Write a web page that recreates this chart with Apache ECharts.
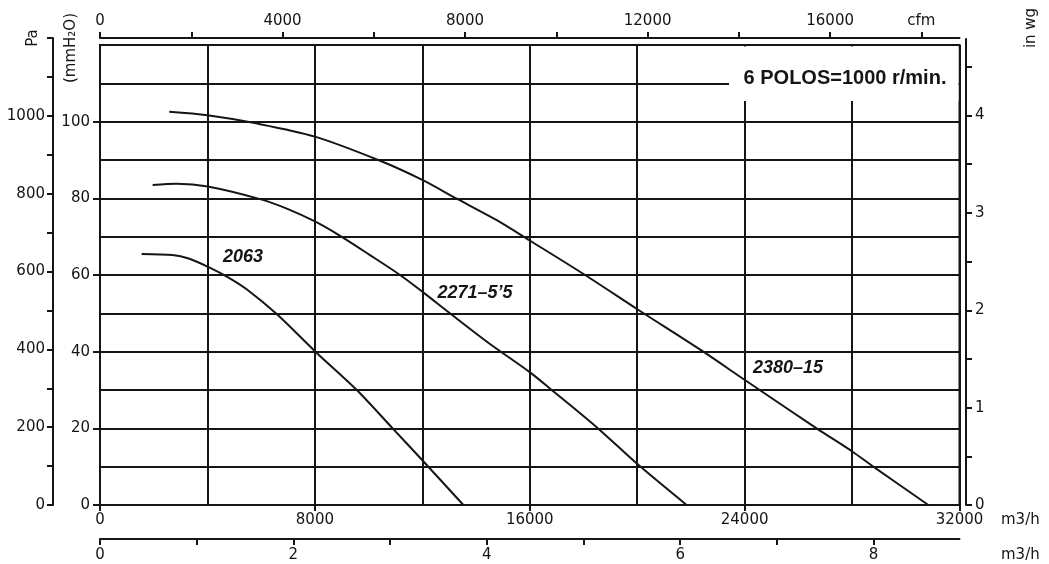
<!DOCTYPE html>
<html>
<head>
<meta charset="utf-8">
<script src="https://cdn.jsdelivr.net/npm/echarts@6/dist/echarts.min.js"></script>
<style>
html,body{margin:0;padding:0;background:#fff;}
#chart{width:1049px;height:564px;}
</style>
</head>
<body>
<div id="chart"></div>
<script>
// ---- Data (flow m3/h, pressure mmH2O) ----
const curve2063 = [[1550,65.5],[2700,65.2],[3300,64.3],[4000,62.2],[4720,59.6],[5460,56.3],[6580,49.8],[8020,40],[9560,30],[10920,19.8],[12010,11.6],[13530,0]];
const curve2271 = [[1960,83.5],[2860,83.8],[4010,83.1],[5960,79.8],[7000,77.2],[8020,73.9],[8940,70.2],[10050,65.2],[11170,60],[12010,55.6],[13030,50],[14520,42],[16010,34.6],[16750,30.4],[18490,20.3],[20020,10.6],[21840,0]];
const curve2380 = [[2580,102.6],[4000,101.7],[5710,99.7],[8000,96.1],[10430,89.8],[12000,84.8],[13280,79.9],[14770,74.3],[16000,69.0],[18060,60],[20020,51.0],[22460,40],[24010,32.6],[26680,20],[28020,13.9],[28790,10],[30840,0]];
const seriesNames = ['2063','2271–5’5','2380–15'];
const labelCoords = [[5324,64.7],[13960,55.3],[25615,35.7]];

// tick labels
const flowTicks = [0,8000,16000,24000,32000];
const mmTicks = [0,20,40,60,80,100];
const paLabels = [0,200,400,600,800,1000];
const paTicks = [0,100,200,300,400,500,600,700,800,900,1000,1100,1200];
const cfmTicks = [0,2000,4000,6000,8000,10000,12000,14000,16000,18000];
const cfmLabels = [0,4000,8000,12000,16000,18000];
const m3sTicks = [0,1,2,3,4,5,6,7,8];
const m3sLabels = [0,2,4,6,8];
const inwgTicks = [0,0.5,1,1.5,2,2.5,3,3.5,4,4.5];
const inwgLabels = [0,1,2,3,4];
const titleText = '6 POLOS=1000 r/min.';

// unit conversions
const CFM = 1.699;      // m3/h per cfm
const M3S = 3600;       // m3/h per m3/s
const FLOW_MAX = 32000;
const MM_MAX = 120;
const PX_PER_MM = 460 / MM_MAX;
const INWG_MAX = 466 / (25.4 * PX_PER_MM);

const ink = '#151515';
const font = 'DejaVu Sans';
const plain = v => String(v);
const lbl = {color: ink, fontSize: 15, fontFamily: font, formatter: plain};
const axLine = {show: true, onZero: false, lineStyle: {color: ink, width: 2}};
const noLine = {show: false, onZero: false};
const tickStyle = {color: ink, width: 2};
const gridLine = {show: true, lineStyle: {color: ink, width: 2}};

const chart = echarts.init(document.getElementById('chart'), null, {renderer: 'canvas'});
const curves = [curve2063, curve2271, curve2380];

chart.setOption({
  animation: false,
  backgroundColor: '#fff',
  grid: [
    {left: 100, top: 45, width: 859.5, height: 460, show: true, borderColor: ink, borderWidth: 2, backgroundColor: 'transparent'},
    {left: 53, top: 38, width: 10, height: 467},
    {left: 966, top: 39, width: 10, height: 466}
  ],
  xAxis: [
    // 0: main flow axis (grid lines every 4000)
    {gridIndex: 0, type: 'value', position: 'bottom', min: 0, max: FLOW_MAX, interval: 4000,
     axisLine: axLine, axisTick: {show: false},
     axisLabel: Object.assign({}, lbl, {customValues: flowTicks, margin: 8}),
     splitLine: gridLine},
    // 1: cfm top axis
    {gridIndex: 0, type: 'value', position: 'top', offset: 7, min: 0, max: FLOW_MAX / CFM, interval: 2000,
     axisLine: axLine,
     axisTick: {show: true, customValues: cfmTicks, length: 6, lineStyle: tickStyle},
     axisLabel: Object.assign({}, lbl, {customValues: cfmLabels, margin: 9,
       formatter: v => v === 18000 ? 'cfm' : String(v)}),
     splitLine: {show: false}},
    // 2: m3/s bottom axis
    {gridIndex: 0, type: 'value', position: 'bottom', offset: 34, min: 0, max: FLOW_MAX / M3S, interval: 1,
     axisLine: axLine,
     axisTick: {show: true, customValues: m3sTicks, length: 6, lineStyle: tickStyle},
     axisLabel: Object.assign({}, lbl, {customValues: m3sLabels, margin: 9}),
     splitLine: {show: false}},
    {gridIndex: 1, type: 'value', show: false, min: 0, max: 1},
    {gridIndex: 2, type: 'value', show: false, min: 0, max: 1},
    // 5: tick overlay for main flow axis
    {gridIndex: 0, type: 'value', position: 'bottom', min: 0, max: FLOW_MAX, interval: 8000,
     axisLine: noLine,
     axisTick: {show: true, customValues: flowTicks, length: 6, lineStyle: tickStyle},
     axisLabel: {show: false}, splitLine: {show: false}}
  ],
  yAxis: [
    // 0: main mmH2O axis (grid lines every 10)
    {gridIndex: 0, type: 'value', position: 'left', min: 0, max: MM_MAX, interval: 10,
     axisLine: axLine, axisTick: {show: false},
     axisLabel: Object.assign({}, lbl, {customValues: mmTicks, margin: 10}),
     splitLine: gridLine},
    // 1: Pa axis
    {gridIndex: 1, type: 'value', position: 'left', min: 0, max: 1200, interval: 100,
     axisLine: axLine,
     axisTick: {show: true, customValues: paTicks, length: 6, lineStyle: tickStyle},
     axisLabel: Object.assign({}, lbl, {customValues: paLabels, margin: 8}),
     splitLine: {show: false}},
    // 2: in wg axis
    {gridIndex: 2, type: 'value', position: 'left', min: 0, max: INWG_MAX, interval: 0.5,
     axisLine: axLine,
     axisTick: {show: true, inside: true, customValues: inwgTicks, length: 6, lineStyle: tickStyle},
     axisLabel: Object.assign({}, lbl, {inside: true, customValues: inwgLabels, margin: 9}),
     splitLine: {show: false}},
    // 3: tick overlay for main mmH2O axis
    {gridIndex: 0, type: 'value', position: 'left', min: 0, max: MM_MAX, interval: 20,
     axisLine: noLine,
     axisTick: {show: true, customValues: mmTicks, length: 7, lineStyle: tickStyle},
     axisLabel: {show: false}, splitLine: {show: false}}
  ],
  series: curves.map((d, i) => ({
    type: 'line', name: seriesNames[i], xAxisIndex: 0, yAxisIndex: 0,
    data: d, showSymbol: false, smooth: 0.3, z: 5,
    lineStyle: {color: ink, width: 2},
    markPoint: {
      symbol: 'circle', symbolSize: 0, silent: true,
      data: [{coord: labelCoords[i], name: seriesNames[i]}],
      label: {show: true, position: 'inside', formatter: seriesNames[i], color: ink,
        fontSize: 18, fontStyle: 'italic', fontWeight: 'bold', fontFamily: 'Liberation Sans'}
    }
  })),
  graphic: [
    {type: 'rect', z: 100, shape: {x: 729, y: 46.5, width: 229.5, height: 54.5}, style: {fill: '#fff'}},
    {type: 'text', z: 101, x: 845, y: 78, style: {text: titleText, fill: ink, font: 'bold 20px "Liberation Sans", Arial, sans-serif', align: 'center', verticalAlign: 'middle'}},
    {type: 'text', z: 101, x: 33, y: 38, rotation: Math.PI / 2, style: {text: 'Pa', fill: ink, font: '15px "DejaVu Sans"', align: 'center', verticalAlign: 'middle'}},
    {type: 'text', z: 101, x: 71, y: 48, rotation: Math.PI / 2, style: {text: '(mmH₂O)', fill: ink, font: '15px "DejaVu Sans"', align: 'center', verticalAlign: 'middle'}},
    {type: 'text', z: 101, x: 1031, y: 28, rotation: Math.PI / 2, style: {text: 'in wg', fill: ink, font: '15px "DejaVu Sans"', align: 'center', verticalAlign: 'middle'}},
    {type: 'text', z: 101, x: 1001, y: 520, style: {text: 'm3/h', fill: ink, font: '15px "DejaVu Sans"', align: 'left', verticalAlign: 'middle'}},
    {type: 'text', z: 101, x: 1001, y: 555, style: {text: 'm3/h', fill: ink, font: '15px "DejaVu Sans"', align: 'left', verticalAlign: 'middle'}}
  ]
});
</script>
</body>
</html>
